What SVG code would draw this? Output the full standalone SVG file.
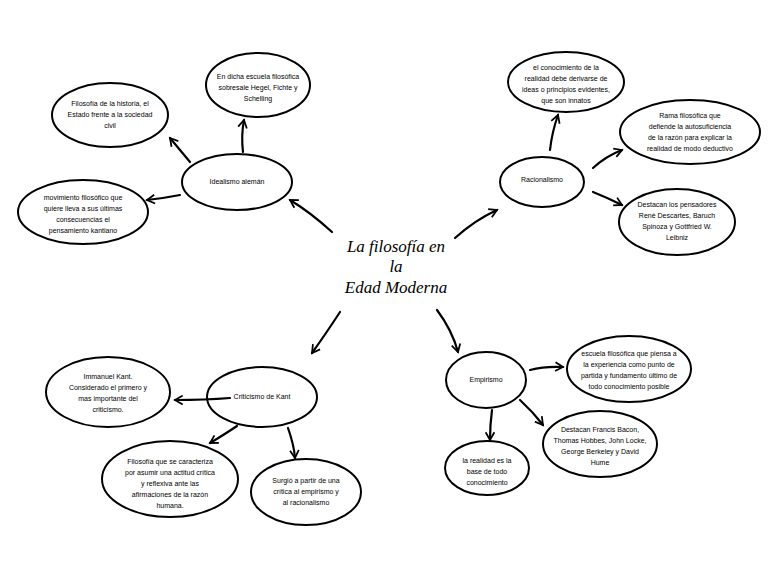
<svg xmlns="http://www.w3.org/2000/svg" width="768" height="576" viewBox="0 0 768 576">
<style>
.n{fill:#fff;stroke:#000;stroke-width:2}
.t{font-family:"Liberation Sans",Arial,sans-serif;font-size:7px;text-anchor:middle;fill:#000}
.c{stroke:#000;stroke-width:2.2;fill:none;marker-end:url(#a);stroke-linecap:round}
.title{font-family:"Liberation Serif",serif;font-style:italic;font-size:17px;text-anchor:middle}
</style>
<defs><marker id="a" viewBox="0 0 10 10" refX="8" refY="5" markerWidth="5" markerHeight="5" orient="auto" markerUnits="strokeWidth"><path d="M1,1 L8,5 L1,9" fill="none" stroke="#000" stroke-width="1.6"/></marker></defs>
<rect width="768" height="576" fill="#fff"/>
<g id="title"><text class="title"><tspan x="396" y="252">La filosofía en</tspan><tspan x="396" y="272">la</tspan><tspan x="396" y="293">Edad Moderna</tspan></text></g>
<g id="idealismo"><ellipse class="n" cx="237" cy="182" rx="55" ry="28"/><text class="t" x="237" y="184">Idealismo alemán</text></g>
<g id="historia"><ellipse class="n" cx="110" cy="115" rx="58" ry="32"/><text class="t"><tspan x="110" y="106">Filosofía de la historia, el</tspan><tspan x="110" y="117">Estado frente a la sociedad</tspan><tspan x="110" y="128">civil</tspan></text></g>
<g id="hegel"><ellipse class="n" cx="258" cy="85" rx="52" ry="32"/><text class="t"><tspan x="258" y="79">En dicha escuela filosófica</tspan><tspan x="258" y="90">sobresale Hegel, Fichte y</tspan><tspan x="258" y="101">Schelling</tspan></text></g>
<g id="movimiento"><ellipse class="n" cx="83" cy="212" rx="65" ry="32"/><text class="t"><tspan x="83" y="200">movimiento filosófico que</tspan><tspan x="83" y="211">quiere lleva a sus últimas</tspan><tspan x="83" y="222">consecuencias el</tspan><tspan x="83" y="233">pensamiento kantiano</tspan></text></g>
<g id="racionalismo"><ellipse class="n" cx="542" cy="182" rx="42" ry="25"/><text class="t" x="542" y="182">Racionalismo</text></g>
<g id="conocimiento"><ellipse class="n" cx="566" cy="82" rx="58" ry="30"/><text class="t"><tspan x="566" y="70">el conocimiento de la</tspan><tspan x="566" y="81">realidad debe derivarse de</tspan><tspan x="566" y="92">ideas o principios evidentes,</tspan><tspan x="566" y="103">que son innatos</tspan></text></g>
<g id="rama"><ellipse class="n" cx="690" cy="132" rx="70" ry="32"/><text class="t"><tspan x="690" y="118">Rama filosófica que</tspan><tspan x="690" y="129">defiende la autosuficiencia</tspan><tspan x="690" y="140">de la razón para explicar la</tspan><tspan x="690" y="151">realidad de modo deductivo</tspan></text></g>
<g id="descartes"><ellipse class="n" cx="677" cy="222" rx="58" ry="33"/><text class="t"><tspan x="677" y="207">Destacan los pensadores</tspan><tspan x="677" y="218">René Descartes, Baruch</tspan><tspan x="677" y="229">Spinoza y Gottfried W.</tspan><tspan x="677" y="240">Leibniz</tspan></text></g>
<g id="criticismo"><ellipse class="n" cx="262" cy="397" rx="55" ry="30"/><text class="t" x="262" y="399">Criticismo de Kant</text></g>
<g id="immanuel"><ellipse class="n" cx="108" cy="392" rx="62" ry="35"/><text class="t"><tspan x="108" y="379">Immanuel Kant.</tspan><tspan x="108" y="390">Considerado el primero y</tspan><tspan x="108" y="401">mas importante del</tspan><tspan x="108" y="412">criticismo.</tspan></text></g>
<g id="actitud"><ellipse class="n" cx="170" cy="479" rx="68" ry="38"/><text class="t"><tspan x="170" y="464">Filosofía que se caracteriza</tspan><tspan x="170" y="475">por asumir una actitud crítica</tspan><tspan x="170" y="486">y reflexiva ante las</tspan><tspan x="170" y="497">afirmaciones de la razón</tspan><tspan x="170" y="508">humana.</tspan></text></g>
<g id="surgio"><ellipse class="n" cx="306" cy="492" rx="55" ry="33"/><text class="t"><tspan x="306" y="483">Surgió a partir de una</tspan><tspan x="306" y="494">crítica al empirismo y</tspan><tspan x="306" y="505">al racionalismo</tspan></text></g>
<g id="empirismo"><ellipse class="n" cx="486" cy="380" rx="40" ry="28"/><text class="t" x="486" y="382">Empirismo</text></g>
<g id="experiencia"><ellipse class="n" cx="629" cy="369" rx="62" ry="33"/><text class="t"><tspan x="629" y="356">escuela filosófica que piensa a</tspan><tspan x="629" y="367">la experiencia como punto de</tspan><tspan x="629" y="378">partida y fundamento último de</tspan><tspan x="629" y="389">todo conocimiento posible</tspan></text></g>
<g id="bacon"><ellipse class="n" cx="600" cy="444" rx="57" ry="33"/><text class="t"><tspan x="600" y="432">Destacan Francis Bacon,</tspan><tspan x="600" y="443">Thomas Hobbes, John Locke,</tspan><tspan x="600" y="454">George Berkeley y David</tspan><tspan x="600" y="465">Hume</tspan></text></g>
<g id="realidad"><ellipse class="n" cx="487" cy="468" rx="42" ry="27"/><text class="t"><tspan x="487" y="463">la realidad es la</tspan><tspan x="487" y="474">base de todo</tspan><tspan x="487" y="485">conocimiento</tspan></text></g>
<g id="connectors">
<path class="c" d="M332,232 Q310,212 290,200"/>
<path class="c" d="M455,238 Q475,220 497,210"/>
<path class="c" d="M340,312 Q325,335 312,353"/>
<path class="c" d="M437,310 Q452,330 458,352"/>
<path class="c" d="M190,162 Q180,150 170,138"/>
<path class="c" d="M243,152 Q241,135 244,120"/>
<path class="c" d="M180,195 Q165,198 147,200"/>
<path class="c" d="M550,150 Q552,132 558,115"/>
<path class="c" d="M593,168 Q606,156 622,150"/>
<path class="c" d="M593,192 Q608,198 622,205"/>
<path class="c" d="M230,398 Q205,400 175,400"/>
<path class="c" d="M237,426 Q222,436 210,443"/>
<path class="c" d="M288,428 Q294,445 295,458"/>
<path class="c" d="M530,370 Q545,366 563,367"/>
<path class="c" d="M520,400 Q533,412 543,425"/>
<path class="c" d="M492,410 Q490,425 490,440"/>
</g>
</svg>
